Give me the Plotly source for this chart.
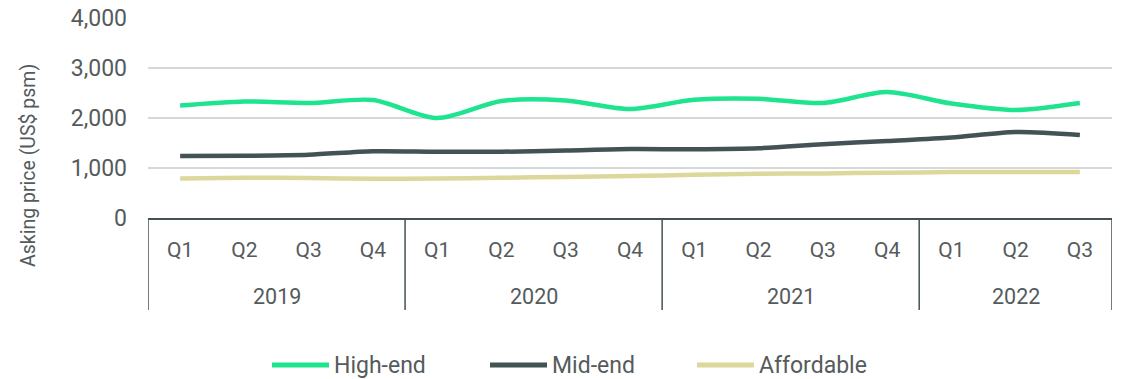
import plotly.graph_objects as go

years = ["2019"] * 4 + ["2020"] * 4 + ["2021"] * 4 + ["2022"] * 3
quarters = ["Q1", "Q2", "Q3", "Q4"] * 3 + ["Q1", "Q2", "Q3"]

series_names = ["High-end", "Mid-end", "Affordable"]
high_end = [2250, 2330, 2300, 2360, 2000, 2340, 2350, 2180, 2365, 2385, 2300, 2520, 2290, 2160, 2300]
mid_end = [1240, 1245, 1265, 1335, 1325, 1325, 1350, 1378, 1375, 1395, 1475, 1540, 1608, 1720, 1662]
affordable = [792, 804, 800, 785, 790, 805, 822, 838, 865, 885, 892, 905, 918, 920, 920]

y_ticks = [0, 1000, 2000, 3000, 4000]

FONT = "Roboto"
TXT = "#555b5c"
DARK = "#435254"
COLORS = ["#1ee38f", DARK, "#dcd89c"]

idx = list(range(len(quarters)))

fig = go.Figure()
for name, vals, col in zip(series_names, [high_end, mid_end, affordable], COLORS):
    fig.add_trace(go.Scatter(
        x=idx, y=vals, name=name, mode="lines", showlegend=False,
        line=dict(color=col, width=4.5, shape="spline", smoothing=0.8),
    ))

# year groups: boundaries and centres derived from the years list
groups = []
for i, yv in enumerate(years):
    if not groups or groups[-1][0] != yv:
        groups.append([yv, i, i])
    else:
        groups[-1][2] = i

shapes = []
annotations = []
bounds = sorted({g[1] - 0.5 for g in groups} | {groups[-1][2] + 0.5})
for b in bounds:
    shapes.append(dict(type="line", xref="x", yref="paper", x0=b, x1=b, y0=0, y1=-0.46,
                       line=dict(color=DARK, width=1.5)))
for yv, a, b in groups:
    annotations.append(dict(text=yv, xref="x", yref="paper", x=(a + b) / 2, y=-0.39,
                            showarrow=False, yanchor="middle",
                            font=dict(size=21.5, color=TXT, family=FONT)))
annotations.append(dict(text="Asking price (US$ psm)", xref="paper", yref="paper",
                        x=-0.1245, xanchor="center", y=0.265, yanchor="middle", textangle=-90,
                        showarrow=False, font=dict(size=19.5, color=TXT, family=FONT)))

# legend (drawn as shapes + text so the swatch length matches)
PW = 964.0
leg_line_x = [272, 490, 697]
leg_y = -0.735
for name, col, lx in zip(series_names, COLORS, leg_line_x):
    shapes.append(dict(type="line", xref="paper", yref="paper",
                       x0=(lx - 148) / PW, x1=(lx + 57 - 148) / PW, y0=leg_y, y1=leg_y,
                       line=dict(color=col, width=5)))
    annotations.append(dict(text=name, xref="paper", yref="paper",
                            x=(lx + 60 - 148) / PW, xanchor="left", y=leg_y, yanchor="middle",
                            showarrow=False, font=dict(size=23, color=TXT, family=FONT)))

fig.update_layout(
    width=1122, height=379,
    margin=dict(l=148, r=10, t=18, b=161, autoexpand=False),
    paper_bgcolor="white", plot_bgcolor="white",
    font=dict(family=FONT, size=20, color=TXT),
    showlegend=False,
    shapes=shapes,
    annotations=annotations,
)
fig.update_xaxes(
    range=[-0.5, len(quarters) - 0.5], tickvals=idx, ticktext=quarters,
    showline=True, linecolor=DARK, linewidth=1.5,
    showgrid=False, zeroline=False, ticks="", automargin=False,
    ticklabelstandoff=12,
    tickfont=dict(size=21, color=TXT),
)
fig.update_yaxes(
    range=[0, 4000], tickvals=y_ticks, tickformat=",d",
    showgrid=True, gridcolor="#d3d8d9", gridwidth=2,
    zeroline=False, showline=False, ticks="", automargin=False,
    ticklabelstandoff=20,
    tickfont=dict(size=23, color=TXT),
)

fig.write_html("out.html")
